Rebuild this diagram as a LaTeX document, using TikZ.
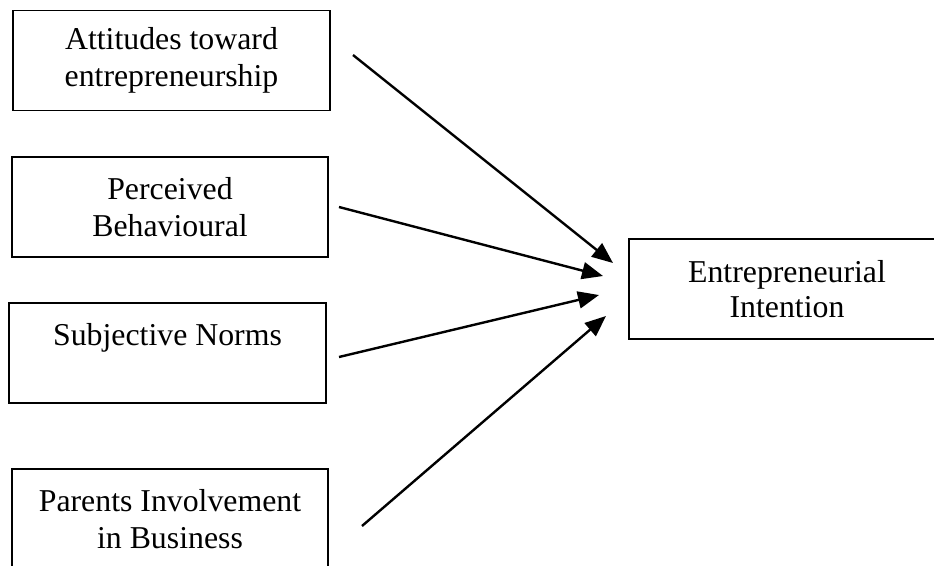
\documentclass[tikz,border=0pt]{standalone}
\usepackage{fontspec}
\setmainfont{Liberation Serif}
\usetikzlibrary{arrows.meta}
\begin{document}
\begin{tikzpicture}[x=1pt,y=-1pt,
  box/.style={draw, line width=1.6pt, inner sep=0pt, align=center,
    font=\fontsize{31.8}{37}\selectfont, minimum height=100pt, minimum width=316pt},
  link/.style={line width=2.4pt, -{Triangle[length=21pt,width=17pt]}}]
\useasboundingbox (0,0) rectangle (934,565);
\node[box, minimum width=317pt] (att) at (171.5,60.5) {Attitudes toward\\entrepreneurship};
\node[box] (pb) at (170,207) {Perceived\\Behavioural};
\node[box, minimum width=317pt] (sn) at (167.5,353) {Subjective Norms\\\mbox{}};
\node[box] (pi) at (170,519) {Parents Involvement\\in Business};
\node[box, font=\fontsize{31.8}{35}\selectfont] (ei) at (787,289) {Entrepreneurial\\Intention};
\coordinate (s1) at (353,55);
\coordinate (e1) at (613,263);
\coordinate (s2) at (339,207);
\coordinate (e2) at (603,276);
\coordinate (s3) at (339,357);
\coordinate (e3) at (599,295);
\coordinate (s4) at (362,526);
\coordinate (e4) at (606,316);
\draw[link] (s1) -- (e1);
\draw[link] (s2) -- (e2);
\draw[link] (s3) -- (e3);
\draw[link] (s4) -- (e4);
\end{tikzpicture}
\end{document}
